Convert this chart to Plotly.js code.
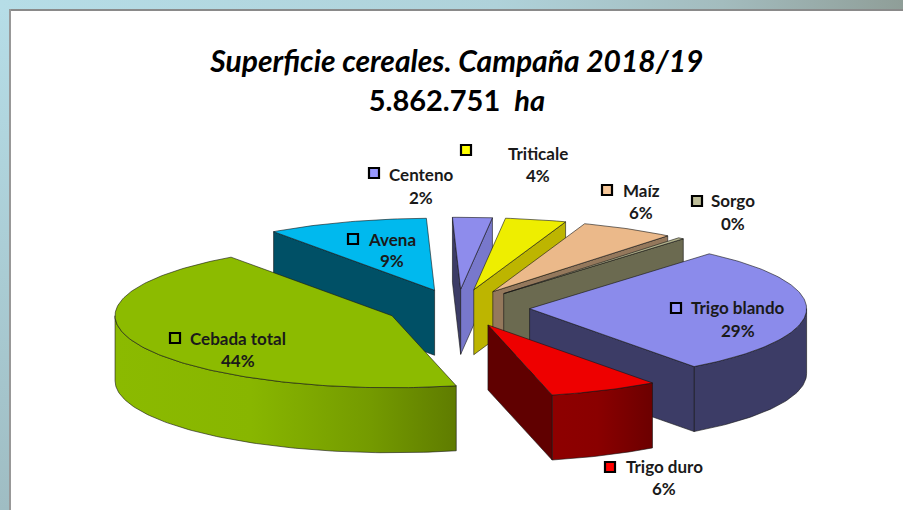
<!DOCTYPE html>
<html><head><meta charset="utf-8">
<script src="https://cdn.plot.ly/plotly-3.0.1.min.js"></script>
<style>html,body{margin:0;padding:0;background:#fff;overflow:hidden}#c{width:903px;height:510px}</style>
</head><body><div id="c"></div>
<script>
// Data
const categories = ['Cebada total','Avena','Centeno','Triticale','Maíz','Sorgo','Trigo blando','Trigo duro'];
const shares = [43.85, 9.4, 2.3, 3.55, 5.5, 0.35, 28.65, 6.4];
// Styles
const topColors  = ['#8CBB00','#00B9EE','#8E8CEC','#EEEE00','#EBB98A','#B3B38D','#8B8BEB','#EE0000'];
const keyColors  = ['#8CBB00','#00B9EE','#9999FF','#FFFF00','#F7C89A','#BDBD98','#9999FF','#FF0000'];
const rimColors  = ['#8CBB00','#005066','#3C3C66','#BDB500','#94785C','#6B6A50','#3C3C66','#8A0000'];
const startFace  = ['#5F7C00','#005066','#3C3C66','#BDB500','#94785C','#6B6A50','#3C3C66','#600000'];
const endFace    = ['#5F7C00','#005066','#7878CC','#BDB500','#94785C','#6B6A50','#3C3C66','#600000'];
const drawOrder  = [1,2,3,4,5,6,7,0];
const rimGradient = {
  0: [[0,'#8BBA00'],[0.4,'#88B600'],[0.75,'#749A00'],[1,'#5F7C00']],
  7: [[0,'#8E0000'],[0.45,'#8A0000'],[1,'#6C0000']]
};
// Label placement
const keyX   = [175,353,374,466,607,697,676,610];
const keyY   = [338,239,173,150,190,201,308,467];
const nameX  = [238,392,421,538,641,733,738,664];
const nameY  = [338,239,174,153,190,200,307,466];
const pctY   = [360,260,197,175,212,223,330,488];
// Pie geometry
const cx = 457.6, cy = 308, rx = 277, ry = 72, depth = 65, pull = 0.26, firstAngle = 166.6;
const outline = 'rgba(20,20,20,0.75)';

const D = Math.PI/180;
const total = shares.reduce((a,b)=>a+b,0);
const traces = [];
function poly(xs, ys, color, grad, lw){
  const t = {type:'scatter', mode:'lines', x:xs, y:ys, fill:'toself', fillcolor:color,
    line:{color:outline, width:lw===undefined?0.8:lw}, hoverinfo:'skip', showlegend:false};
  if(grad) t.fillgradient = grad;
  traces.push(t);
}
// Background bands
poly([0,903,903,0,0],[0,0,9,9,0],'#A9C6CB',{type:'horizontal',colorscale:[[0,'#B6DDE7'],[0.55,'#AFD2DA'],[0.8,'#A3BCBE'],[1,'#8F9E98']]},0);
poly([0,9,9,0,0],[9,9,510,510,9],'#A9C6CB',{type:'vertical',start:9,stop:510,colorscale:[[0,'#B6DDE7'],[1,'#9FBDC3']]},0);

let acc = firstAngle;
const slices = shares.map(v => {
  const span = v/total*360;
  let a = acc; acc += span;
  if(a>=360) a -= 360;
  return {a, b:a+span};
});
function pt(s, th, dz){
  const mid = (s.a+s.b)/2*D;
  const ax = cx + rx*pull*Math.sin(mid), ay = cy - ry*pull*Math.cos(mid);
  return th===null ? [ax, ay+dz] : [ax + rx*Math.sin(th*D), ay - ry*Math.cos(th*D) + dz];
}
function arc(s, a, b, dz){
  const out = [], n = Math.max(2, Math.ceil(Math.abs(b-a)));
  for(let i=0;i<=n;i++) out.push(pt(s, a+(b-a)*i/n, dz));
  return out;
}
function draw(pts, color, grad){
  poly(pts.map(p=>p[0]), pts.map(p=>p[1]), color, grad);
}
drawOrder.forEach(i=>{
  const s = slices[i];
  const sa = Math.sin(s.a*D), sb = Math.sin(s.b*D);
  // outer wall (front half only)
  const lo = Math.max(s.a,90), hi = Math.min(s.b,270);
  if(hi>lo){
    const top = arc(s,lo,hi,0), bot = arc(s,hi,lo,depth);
    const g = rimGradient[i] ? {type:'horizontal',colorscale:rimGradient[i]} : null;
    draw(top.concat(bot,[top[0]]), rimColors[i], g);
  }
  // radial faces
  if(sa<0) draw([pt(s,null,0),pt(s,s.a,0),pt(s,s.a,depth),pt(s,null,depth),pt(s,null,0)], startFace[i]);
  if(sb>0) draw([pt(s,null,0),pt(s,s.b,0),pt(s,s.b,depth),pt(s,null,depth),pt(s,null,0)], endFace[i]);
  // top surface
  draw([pt(s,null,0)].concat(arc(s,s.a,s.b,0),[pt(s,null,0)]), topColors[i]);
});
// Legend keys
traces.push({type:'scatter',mode:'markers',x:keyX,y:keyY,hoverinfo:'skip',showlegend:false,
  marker:{symbol:'square',size:10,color:keyColors,line:{color:'#000',width:2.2}}});

const lblFont = {family:'Lato, Carlito, sans-serif',size:17,color:'#1a1a1a',weight:700};
const annotations = [];
categories.forEach((c,i)=>{
  annotations.push({x:nameX[i],y:nameY[i],text:c,showarrow:false,xanchor:'center',yanchor:'middle',font:lblFont});
  annotations.push({x:nameX[i],y:pctY[i],text:Math.round(shares[i])+'%',showarrow:false,xanchor:'center',yanchor:'middle',font:lblFont});
});

const layout = {
  width:903,height:510,margin:{l:0,r:0,t:0,b:0},paper_bgcolor:'#fff',plot_bgcolor:'#fff',showlegend:false,
  xaxis:{range:[0,903],visible:false,fixedrange:true},
  yaxis:{range:[510,0],visible:false,fixedrange:true},
  title:{text:'<i>Superficie cereales. Campaña 2018/19</i><br><span style="font-size:29px">5.862.751  <i>ha</i></span>',
    x:0.506,xanchor:'center',y:0.858,yanchor:'top',
    font:{family:'Lato, Carlito, sans-serif',size:30,color:'#000',weight:700}},
  shapes:[
    {type:'line',xref:'x',yref:'y',x0:9,x1:903,y0:10,y1:10,line:{color:'#8A8A8A',width:2},layer:'above'},
    {type:'line',xref:'x',yref:'y',x0:10,x1:10,y0:9,y1:510,line:{color:'#989898',width:2},layer:'above'}
  ],
  annotations
};
Plotly.newPlot('c',traces,layout,{displayModeBar:false,staticPlot:true});
</script></body></html>
